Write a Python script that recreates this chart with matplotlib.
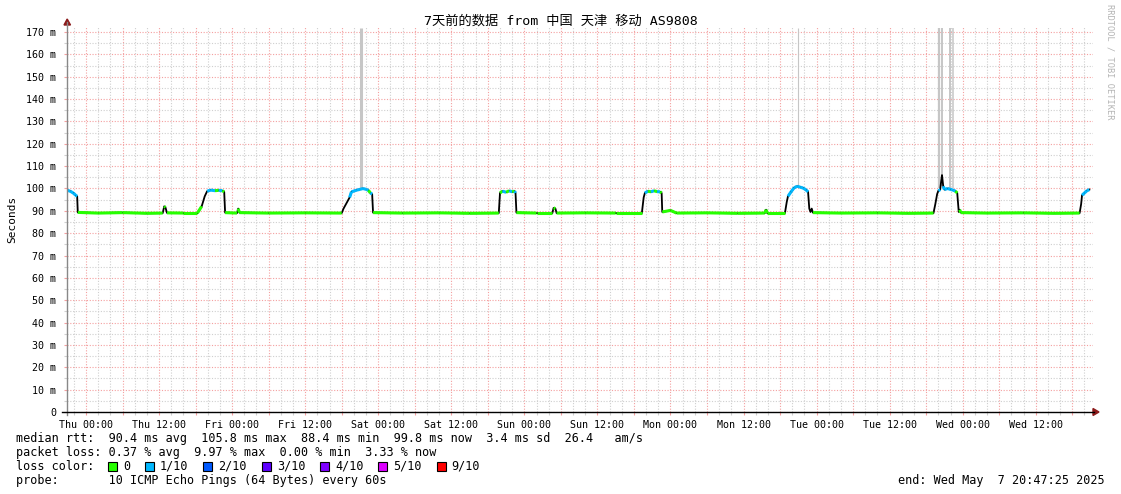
import matplotlib
matplotlib.use("Agg")
import matplotlib.pyplot as plt
from matplotlib.collections import LineCollection
from matplotlib.patches import Rectangle, Polygon
from matplotlib.lines import Line2D

# hours since Thu 00:00, median rtt in ms, loss bucket (-1 = step edge, drawn black)
hours = [-3.12, -2.6, -2.1, -1.7, -1.45, -1.35, 2.0, 6.0, 10.0, 12.6, 12.85, 13.05, 13.3,
         16.0, 18.3, 19.0, 19.5, 19.9, 20.5, 21.2, 21.8, 22.4, 22.7, 22.85, 24.8, 25.0, 25.2,
         30.0, 36.0, 42.0, 42.3, 42.9, 43.3, 43.6, 44.5, 45.0, 45.5, 46.0, 46.4, 46.7, 47.0,
         47.15, 52.0, 58.0, 63.0, 67.8, 68.0, 68.4, 69.0, 69.5, 70.0, 70.4, 70.55, 70.7, 74.0,
         76.6, 76.8, 77.1, 77.3, 82.0, 87.0, 91.3, 91.6, 91.8, 92.3, 92.8, 93.3, 93.8, 94.3,
         94.55, 94.65, 96.0, 97.0, 102.0, 107.0, 111.5, 111.7, 111.9, 114.8, 115.1, 115.3,
         115.8, 116.3, 116.8, 117.3, 117.8, 118.3, 118.6, 118.8, 119.0, 119.2, 119.4, 124.0,
         130.0, 135.0, 139.2, 139.5, 139.8, 140.0, 140.3, 140.45, 140.6, 140.8, 141.0, 141.5,
         142.0, 142.4, 142.8, 143.1, 143.35, 143.5, 143.7, 148.0, 154.0, 159.0, 163.2, 163.45,
         163.6, 164.0, 164.4, 164.8]
rtt = [99.2, 98.8, 98.0, 97.0, 96.5, 89.3, 89.0, 89.2, 88.9, 89.0, 92.0, 91.5, 89.1,
       89.0, 89.0, 92.0, 96.5, 98.8, 99.3, 99.0, 99.2, 99.0, 98.5, 89.2, 89.0, 91.0, 89.2,
       89.0, 89.1, 89.0, 91.0, 94.0, 96.0, 98.5, 99.3, 99.6, 100.0, 99.6, 99.2, 98.0, 97.5,
       89.2, 89.0, 89.1, 88.9, 89.0, 98.0, 98.8, 98.3, 99.0, 98.5, 98.8, 98.0, 89.2, 89.0,
       89.0, 91.3, 91.0, 89.0, 89.1, 89.0, 89.0, 96.0, 98.0, 98.8, 98.5, 99.0, 98.6, 98.5,
       98.0, 89.5, 90.2, 89.0, 89.1, 88.9, 89.0, 90.5, 89.0, 89.0, 94.0, 96.5,
       98.5, 100.3, 101.0, 100.6, 100.2, 99.3, 98.5, 91.0, 89.5, 91.0, 89.2, 89.0,
       89.1, 88.9, 89.0, 93.0, 97.5, 99.0, 99.5, 103.0, 106.0, 101.0, 99.5, 100.0,
       99.6, 99.3, 98.8, 98.0, 89.5, 90.5, 89.2, 89.0, 89.1, 88.9, 89.0, 93.0,
       97.0, 98.0, 99.0, 99.5]
loss = [1, 1, 1, 1, -1, 0, 0, 0, 0, -1, 0, -1, 0,
        0, 0, -1, -1, 1, 1, 0, 1, 0, -1, 0, -1, 0, 0,
        0, 0, -1, -1, -1, 1, 1, 1, 1, 1, 1, 0, 1, -1,
        0, 0, 0, 0, -1, 0, 1, 0, 1, 0, 1, -1, 0, 0,
        -1, 0, -1, 0, 0, 0, -1, -1, 1, 0, 1, 0, 1, 0,
        -1, 0, 0, 0, 0, 0, 0, 0, 0, -1, -1, 1,
        1, 1, 1, 1, 1, 1, -1, -1, -1, -1, 0, 0,
        0, 0, -1, -1, -1, 1, -1, -1, -1, 1, 1, 1,
        1, 1, 0, -1, -1, 0, 0, 0, 0, 0, -1, -1,
        1, 1, 1, 1]

# smoke outliers (tall grey bars)
spike_hours = [45.2, 116.9, 140.1, 140.6, 141.9, 142.4]
spike_low = [100, 101, 100, 101, 100, 100]
spike_high = [172, 172, 172, 172, 172, 172]
spike_widths = [2.2, 0.8, 1.6, 1.4, 1.4, 1.1]

xtick_labels = ["Thu 00:00", "Thu 12:00", "Fri 00:00", "Fri 12:00", "Sat 00:00", "Sat 12:00",
                "Sun 00:00", "Sun 12:00", "Mon 00:00", "Mon 12:00", "Tue 00:00", "Tue 12:00",
                "Wed 00:00", "Wed 12:00"]
ytick_values = list(range(0, 171, 10))

loss_labels = ["0", "1/10", "2/10", "3/10", "4/10", "5/10", "9/10"]
loss_colors = ["#26ff00", "#00b8ff", "#0059ff", "#5e00ff", "#7e00ff", "#dd00ff", "#ff0000"]

W, H = 1121, 494
MONO = "DejaVu Sans Mono"
RED = "#f4a0a0"
GREY = "#cfcfcf"
plt.rcParams['font.family'] = [MONO, 'Noto Sans CJK SC']

fig = plt.figure(figsize=(W / 100, H / 100), dpi=100)
fig.patch.set_facecolor("white")
ax = fig.add_axes([67 / W, (H - 412) / H, (1093 - 67) / W, (412 - 26) / H])
ax.set_xlim(-3.12, 165.4)
ax.set_ylim(0, 172.7)
for s in ax.spines.values():
    s.set_visible(False)

# grid: red every 6h / 10ms, grey every 2h / 5ms
major_x = [6 * i for i in range(0, 28)]
ax.set_xticks(major_x)
ax.set_xticklabels([xtick_labels[i // 2] if i % 2 == 0 else "" for i in range(len(major_x))])
ax.set_xticks([2 * i for i in range(-1, 83)], minor=True)
ax.set_yticks(ytick_values)
ax.set_yticklabels(["0"] + ["%d m" % v for v in ytick_values[1:]])
ax.set_yticks(list(range(5, 172, 10)), minor=True)
ax.grid(which="major", color=RED, linestyle=(0, (1, 1.5)), linewidth=0.8)
ax.grid(which="minor", color=GREY, linestyle=(0, (1, 1.5)), linewidth=0.8)
ax.set_axisbelow(True)
ax.tick_params(which="both", labelsize=7.2, labelcolor="black", direction="out", width=0.8)
ax.tick_params(axis="x", which="major", length=2.5, color=RED, pad=3.5)
ax.tick_params(axis="x", which="minor", length=2.5, color=GREY)
ax.tick_params(axis="y", which="major", length=2.5, color=RED, pad=5.5)
ax.tick_params(axis="y", which="minor", length=2.5, color=GREY)

# smoke spikes
ax.vlines(spike_hours, spike_low, spike_high, colors="#c6c6c6", linewidths=spike_widths, zorder=2)

# median line: black underneath, loss colour on top
ax.plot(hours, rtt, color="black", linewidth=1.3, zorder=3)
segs, cols = [], []
for i in range(len(hours) - 1):
    if loss[i] >= 0:
        segs.append([(hours[i], rtt[i]), (hours[i + 1], rtt[i + 1])])
        cols.append(loss_colors[loss[i]])
ax.add_collection(LineCollection(segs, colors=cols, linewidths=2.2, capstyle="butt", zorder=4))

ax.set_ylabel("Seconds", fontsize=8)
ax.yaxis.set_label_coords(-50 / (1093 - 67), 0.5)


def fx(px):
    return px / W


def fy(py):
    return 1 - py / H


# axis lines with arrows
fig.add_artist(Line2D([fx(67), fx(67)], [fy(415), fy(22)], color="#888888", linewidth=1))
fig.add_artist(Line2D([fx(62), fx(1094)], [fy(412), fy(412)], color="black", linewidth=1))
fig.add_artist(Polygon([(fx(64), fy(25)), (fx(70.5), fy(25)), (fx(67.2), fy(19))],
                       closed=True, color="#8b1a1a", transform=fig.transFigure))
fig.add_artist(Polygon([(fx(1093), fy(408.5)), (fx(1093), fy(415.5)), (fx(1099), fy(412))],
                       closed=True, color="#8b1a1a", transform=fig.transFigure))

fig.text(fx(560.5), fy(21), "7天前的数据 from 中国 天津 移动 AS9808", ha="center", va="center",
         fontsize=9.5, family=[MONO, "Noto Sans CJK SC"])
fig.text(fx(1110), fy(4), "RRDTOOL / TOBI OETIKER", rotation=270, ha="center", va="top",
         fontsize=6.2, color="#b4b4b4", family=MONO)

LEG = 8.5
fig.text(fx(16), fy(438), "median rtt:  90.4 ms avg  105.8 ms max  88.4 ms min  99.8 ms now  3.4 ms sd  26.4   am/s",
         fontsize=LEG, va="center", family=MONO)
fig.text(fx(16), fy(452), "packet loss: 0.37 % avg  9.97 % max  0.00 % min  3.33 % now",
         fontsize=LEG, va="center", family=MONO)
fig.text(fx(16), fy(466), "loss color:", fontsize=LEG, va="center", family=MONO)
fig.text(fx(16), fy(480), "probe:       10 ICMP Echo Pings (64 Bytes) every 60s",
         fontsize=LEG, va="center", family=MONO)
fig.text(fx(1105), fy(480), "end: Wed May  7 20:47:25 2025", fontsize=LEG, va="center",
         ha="right", family=MONO)

x0 = 108
for lab, col in zip(loss_labels, loss_colors):
    fig.add_artist(Rectangle((fx(x0), fy(470.5)), 9 / W, 9 / H, facecolor=col, edgecolor="black",
                             linewidth=0.8, transform=fig.transFigure))
    fig.text(fx(x0 + 15), fy(466), lab, fontsize=LEG, va="center", family=MONO)
    x0 += 15 + len(lab) * 7.08 + 15

fig.savefig("out.png", dpi=100)
